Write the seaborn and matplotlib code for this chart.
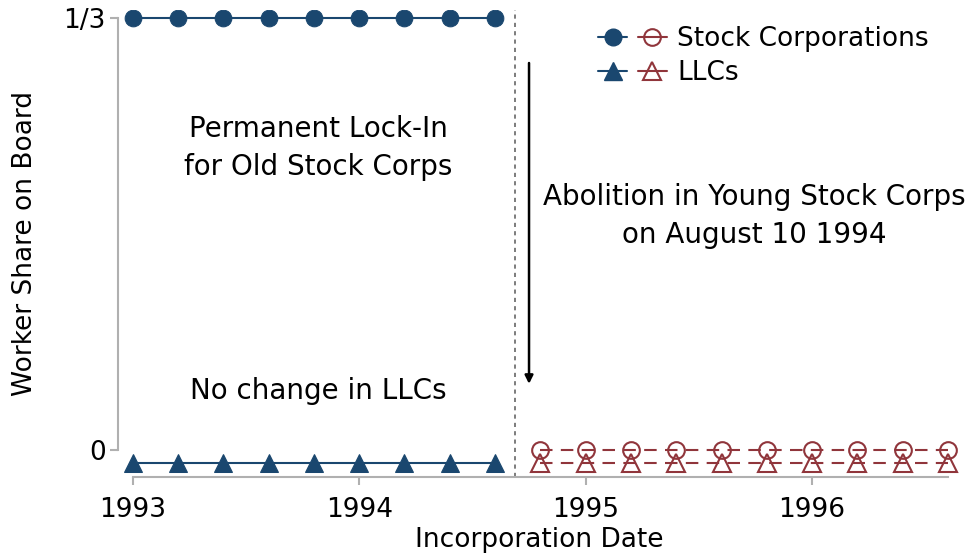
import matplotlib
matplotlib.use('Agg')
import matplotlib.pyplot as plt
import seaborn as sns
from matplotlib.lines import Line2D
from matplotlib.legend_handler import HandlerTuple

# incorporation dates (years)
dates_old = [1993.0, 1993.2, 1993.4, 1993.6, 1993.8, 1994.0, 1994.2, 1994.4, 1994.6]
dates_young = [1994.8, 1995.0, 1995.2, 1995.4, 1995.6, 1995.8, 1996.0, 1996.2, 1996.4, 1996.6]

# worker share on board
stock_old = [1/3, 1/3, 1/3, 1/3, 1/3, 1/3, 1/3, 1/3, 1/3]
llc_old = [-0.01, -0.01, -0.01, -0.01, -0.01, -0.01, -0.01, -0.01, -0.01]
stock_young = [0, 0, 0, 0, 0, 0, 0, 0, 0, 0]
llc_young = [-0.01, -0.01, -0.01, -0.01, -0.01, -0.01, -0.01, -0.01, -0.01, -0.01]

cutoff = 1994.69
yticks = [0, 1/3]
ytick_labels = ['0', '1/3']
xticks = [1993, 1994, 1995, 1996]

navy = '#1a476f'
maroon = '#90353b'
gray = '#b0b0b0'

sns.set_style('white')
plt.rcParams['font.family'] = ['DejaVu Sans']
plt.rcParams['font.size'] = 19
plt.rcParams['text.color'] = 'black'
plt.rcParams['axes.labelcolor'] = 'black'
plt.rcParams['xtick.color'] = 'black'
plt.rcParams['ytick.color'] = 'black'

fig = plt.figure(figsize=(9.69, 5.55), dpi=100)
ax = fig.add_axes([0.122, 0.14, 0.868, 0.8425])

sns.lineplot(x=dates_old, y=stock_old, ax=ax, color=navy, marker='o',
             markersize=12, markeredgecolor=navy, lw=1.5)
sns.lineplot(x=dates_old, y=llc_old, ax=ax, color=navy, marker='^',
             markersize=13, markeredgecolor=navy, lw=1.5)
sns.lineplot(x=dates_young, y=stock_young, ax=ax, color=maroon, marker='o',
             markersize=12, markerfacecolor='none', markeredgecolor=maroon,
             markeredgewidth=1.5, lw=1.5, ls=(0, (6, 4)))
sns.lineplot(x=dates_young, y=llc_young, ax=ax, color=maroon, marker='^',
             markersize=13, markerfacecolor='none', markeredgecolor=maroon,
             markeredgewidth=1.5, lw=1.5, ls=(0, (6, 4)))

ax.axvline(cutoff, color='#666666', lw=1.2, ls=(0, (2.5, 2.5)))

ax.annotate('', xy=(1994.75, 0.049), xytext=(1994.75, 0.301),
            arrowprops=dict(arrowstyle='-|>', color='black', lw=1.8,
                            mutation_scale=12))

ax.text(1993.82, 0.233, 'Permanent Lock-In\nfor Old Stock Corps',
        ha='center', va='center', linespacing=1.45, fontsize=20)
ax.text(1993.82, 0.046, 'No change in LLCs', ha='center', va='center',
        fontsize=20)
ax.text(1995.745, 0.181, 'Abolition in Young Stock Corps\non August 10 1994',
        ha='center', va='center', linespacing=1.45, fontsize=20)

ax.set_xlim(1992.936, 1996.65)
ax.set_ylim(-0.021, 0.340)
ax.set_xticks(xticks)
ax.set_yticks(yticks)
ax.set_yticklabels(ytick_labels)
ax.set_xlabel('Incorporation Date', labelpad=3)
ax.set_ylabel('Worker Share on Board', labelpad=18)

for side in ['top', 'right']:
    ax.spines[side].set_visible(False)
ax.spines['left'].set_bounds(0, 1/3)
ax.spines['bottom'].set_bounds(1993, 1996.6)
for side in ['left', 'bottom']:
    ax.spines[side].set_color(gray)
    ax.spines[side].set_linewidth(1.5)
ax.tick_params(axis='both', which='both', direction='out', length=6,
               width=1.5, color=gray, labelcolor='black', labelsize=19)
ax.tick_params(axis='x', bottom=True, pad=8)
ax.tick_params(axis='y', left=True, pad=3)

h_sc = (Line2D([], [], color=navy, marker='o', markersize=12, lw=1.5),
        Line2D([], [], color=maroon, marker='o', markersize=12, lw=1.5,
               markerfacecolor='none', markeredgewidth=1.5))
h_llc = (Line2D([], [], color=navy, marker='^', markersize=13, lw=1.5),
         Line2D([], [], color=maroon, marker='^', markersize=13, lw=1.5,
                markerfacecolor='none', markeredgewidth=1.5))
ax.legend([h_sc, h_llc], ['Stock Corporations', 'LLCs'],
          handler_map={tuple: HandlerTuple(ndivide=None, pad=0.4)},
          loc='upper right', bbox_to_anchor=(0.992, 1.015), frameon=False,
          handlelength=2.6, handletextpad=0.4, labelspacing=0.3, fontsize=19)

fig.savefig('out.png', dpi=100)
